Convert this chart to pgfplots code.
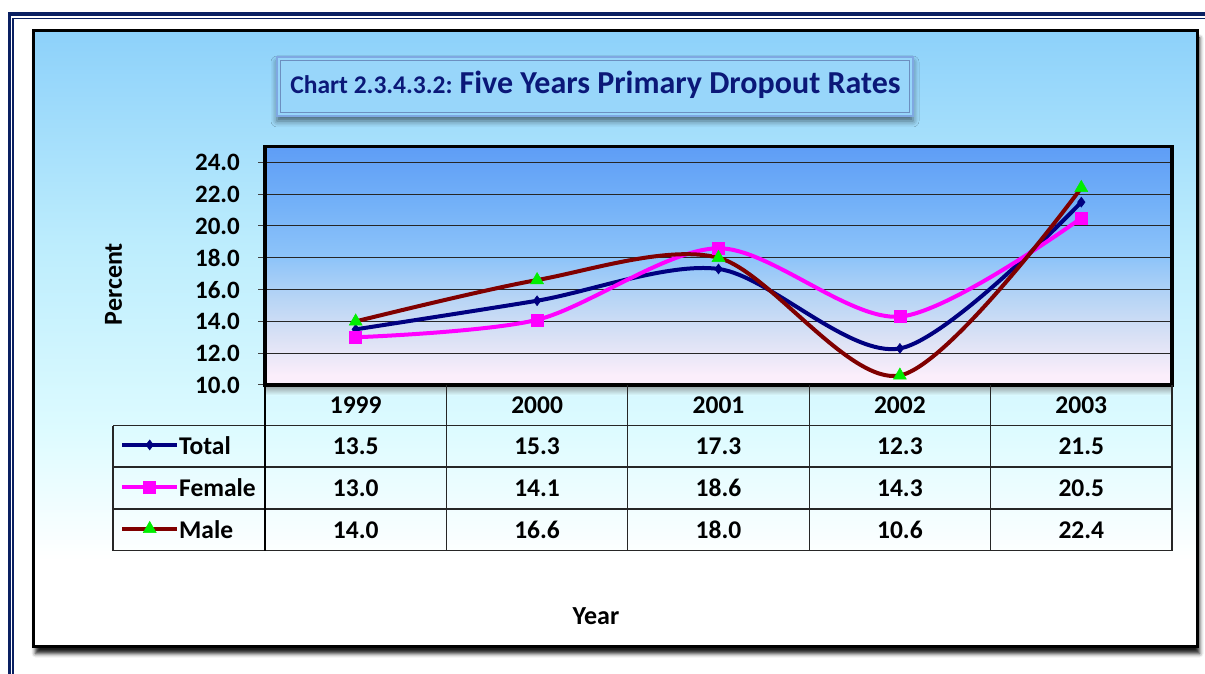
\documentclass[border=0pt]{standalone}
\usepackage{fontspec}
\setmainfont{Carlito}
\usepackage{pgfplots}
\pgfplotsset{compat=1.18}
\usepackage{pgfplotstable}
\usetikzlibrary{shadows.blur}

\definecolor{navyb}{HTML}{0A2062}
\definecolor{titlec}{HTML}{0B1878}
\definecolor{tot}{HTML}{000080}
\definecolor{fem}{HTML}{FF00FF}
\definecolor{mal}{HTML}{800000}
\definecolor{tri}{HTML}{00EE00}
\definecolor{bgA}{HTML}{DDFBFF}
\definecolor{bgB}{HTML}{BDEDFD}
\definecolor{bgC}{HTML}{8DD1FA}
\definecolor{pA}{HTML}{FBEEFB}
\definecolor{pB}{HTML}{DCE2F5}
\definecolor{pC}{HTML}{B8D5F5}
\definecolor{pD}{HTML}{8EC4F9}
\definecolor{pE}{HTML}{72B0F8}
\definecolor{pF}{HTML}{5E9DF6}
\definecolor{tbox}{HTML}{7FA8E2}

\pgfdeclareverticalshading{bgshade}{100bp}{color(0bp)=(white); color(32bp)=(white); color(42.5bp)=(bgA); color(57.5bp)=(bgB); color(75bp)=(bgC); color(100bp)=(bgC)}
\pgfdeclareverticalshading{plotshade}{100bp}{color(0bp)=(pA); color(27bp)=(pA); color(34.5bp)=(pB); color(43bp)=(pC); color(51.5bp)=(pD); color(63.5bp)=(pE); color(75bp)=(pF); color(100bp)=(pF)}

\pgfplotstableread{
x year Total Female Male
0 1999 13.5 13.0 14.0
1 2000 15.3 14.1 16.6
2 2001 17.3 18.6 18.0
3 2002 12.3 14.3 10.6
4 2003 21.5 20.5 22.4
}\datatable

\newcommand{\tf}{\fontsize{25.5}{25.5}\selectfont\bfseries}

\begin{document}
\begin{tikzpicture}[x=1pt,y=1pt]
\useasboundingbox (0,0) rectangle (1205,673);
% outer double frame
\draw[navyb, line width=3.4pt] (9.2,-5) -- (9.2,658.8) -- (1215,658.8);
\draw[navyb, line width=1.6pt] (12.7,-5) -- (12.7,654.6) -- (1215,654.6);
% main box
\shadedraw[shading=bgshade, draw=black, line width=3pt,
  blur shadow={shadow xshift=2pt, shadow yshift=-7pt, shadow blur radius=4pt, shadow opacity=90}]
  (33.5,26.5) rectangle (1197.5,642);
% title box
\fill[tbox!60!gray, opacity=0.5, blur shadow={shadow xshift=0pt, shadow yshift=-5pt, shadow blur radius=6pt, shadow opacity=55}]
  (277,557) rectangle (913,616);
\fill[color=bgC!90!white] (277,557) rectangle (913,616);
\draw[tbox, line width=2pt] (277,557) rectangle (913,616);
\draw[tbox!85!black, line width=1.2pt] (280.5,560.5) rectangle (909.5,612.5);
\node[text=titlec, font=\bfseries, inner sep=0pt] at (595.5,588)
  {{\fontsize{25.5}{25.5}\selectfont Chart 2.3.4.3.2:}\hspace{7pt}{\fontsize{32}{32}\selectfont Five Years Primary Dropout Rates}};
% shadow under plot area
\shade[top color=black!55, bottom color=bgA, opacity=0.6] (266,286.5) rectangle (1172,278);

\begin{axis}[
  at={(265pt,288pt)}, anchor=south west,
  width=907pt, height=238.5pt, scale only axis,
  xmin=-0.5, xmax=4.5, ymin=10, ymax=25,
  clip=false,
  axis background/.style={shade, shading=plotshade},
  axis line style={black, line width=3.6pt},
  xtick=\empty,
  ytick={10,12,...,24},
  ytick pos=left,
  tick align=outside,
  major tick length=7pt,
  y tick style={black!75, line width=1pt},
  ymajorgrids,
  major grid style={black!85, line width=1pt},
  yticklabel style={font=\fontsize{25}{25}\selectfont\bfseries, inner sep=0pt, xshift=-18pt,
    /pgf/number format/.cd, fixed, fixed zerofill, precision=1, assume math mode=true},
  legend style={at={(axis cs:-1.2993,7.0)}, anchor=north west, draw=none, fill=none,
    inner sep=0pt, row sep=18pt, column sep=0pt,
    nodes={inner sep=0pt, text height=22pt, text depth=2pt, anchor=west},
    font=\tf},
  legend cell align=left,
  legend image code/.code={\draw[#1, mark repeat=2, mark phase=2] plot coordinates {(0pt,0pt) (27.5pt,0pt) (55pt,0pt)};},
]
\addplot[tot, line width=4pt, smooth, tension=0.5, mark=diamond*, mark size=5pt,
  mark options={solid, fill=tot, line width=0.5pt}] table[x=x,y=Total]{\datatable};
\addlegendentry{Total}
\addplot[fem, line width=4pt, smooth, tension=0.5, mark=square*, mark size=6pt,
  mark options={solid, fill=fem, line width=0.5pt}] table[x=x,y=Female]{\datatable};
\addlegendentry{Female}
\addplot[mal, line width=4pt, smooth, tension=0.5, mark=triangle*, mark size=7.5pt,
  mark options={solid, fill=tri, draw=tri, line width=0.5pt}] table[x=x,y=Male]{\datatable};
\addlegendentry{Male}
% table text from the data
\addplot[forget plot, draw=none, mark=none, nodes near coords, point meta=explicit symbolic,
  nodes near coords align={center}, every node near coord/.append style={font=\tf, text=black, inner sep=0pt}]
  table[x=x, y expr=8.742, meta=year]{\datatable};
\addplot[forget plot, draw=none, mark=none, nodes near coords, point meta=explicit symbolic,
  nodes near coords align={center}, every node near coord/.append style={font=\tf, text=black, inner sep=0pt}]
  table[x=x, y expr=6.164, meta=Total]{\datatable};
\addplot[forget plot, draw=none, mark=none, nodes near coords, point meta=explicit symbolic,
  nodes near coords align={center}, every node near coord/.append style={font=\tf, text=black, inner sep=0pt}]
  table[x=x, y expr=3.522, meta=Female]{\datatable};
\addplot[forget plot, draw=none, mark=none, nodes near coords, point meta=explicit symbolic,
  nodes near coords align={center}, every node near coord/.append style={font=\tf, text=black, inner sep=0pt}]
  table[x=x, y expr=0.881, meta=Male]{\datatable};
\end{axis}

% table grid
\draw[black!85, line width=1.3pt]
  (113,247.5) -- (1172,247.5)
  (113,206) -- (1172,206)
  (113,164) -- (1172,164)
  (113,122.5) -- (1172,122.5)
  (113,247.5) -- (113,122.5)
  (446.4,288) -- (446.4,122.5)
  (627.8,288) -- (627.8,122.5)
  (809.2,288) -- (809.2,122.5)
  (990.6,288) -- (990.6,122.5)
  (1172,288) -- (1172,122.5);
\draw[black, line width=2pt] (265,288) -- (265,122.5);

% axis titles
\node[rotate=90, font=\fontsize{26}{26}\selectfont\bfseries, inner sep=0pt] at (113.5,389) {Percent};
\node[font=\fontsize{26}{26}\selectfont\bfseries, inner sep=0pt] at (596,57) {Year};
\end{tikzpicture}
\end{document}
